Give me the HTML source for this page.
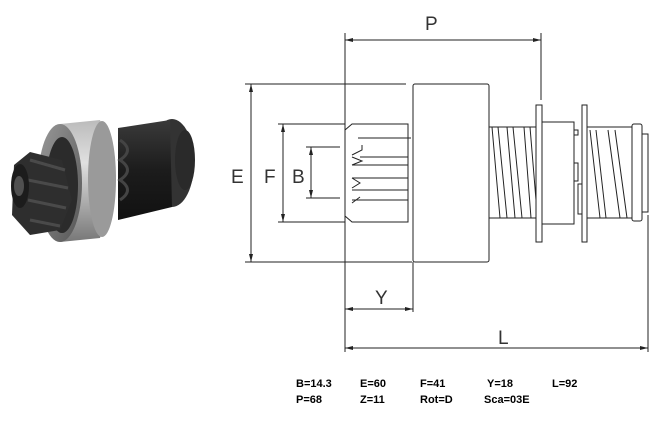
<!DOCTYPE html>
<html><head><style>
html,body{margin:0;padding:0;background:#fff;width:663px;height:421px;overflow:hidden}
svg{position:absolute;left:0;top:0}
.t{font-family:"Liberation Sans",Arial,sans-serif;font-weight:bold;font-size:11px;fill:#000}
.d{font-family:"Liberation Sans",Arial,sans-serif;font-size:19px;fill:#333}
</style></head><body>
<svg width="663" height="421" viewBox="0 0 663 421">
<defs>
<linearGradient id="ring" x1="0" y1="0" x2="0" y2="1">
<stop offset="0" stop-color="#bbb"/><stop offset="0.35" stop-color="#e0e0e0"/><stop offset="0.7" stop-color="#a8a8a8"/><stop offset="1" stop-color="#777"/></linearGradient>
<linearGradient id="face" x1="0" y1="0" x2="1" y2="1">
<stop offset="0" stop-color="#999"/><stop offset="1" stop-color="#555"/></linearGradient>
<linearGradient id="dk" x1="0" y1="0" x2="0" y2="1">
<stop offset="0" stop-color="#3a3a3a"/><stop offset="0.5" stop-color="#1c1c1c"/><stop offset="1" stop-color="#111"/></linearGradient>
<marker id="a" markerWidth="8" markerHeight="6" refX="8" refY="3" orient="auto-start-reverse" markerUnits="userSpaceOnUse"><path d="M0,1 L8,3 L0,5z" fill="#222"/></marker>
</defs>
<!-- photo -->
<ellipse cx="172" cy="163" rx="22" ry="44" fill="#333"/>
<ellipse cx="185" cy="160" rx="10" ry="30" fill="#2a2a2a"/>
<path d="M118 128 L170 120 L172 207 L118 220z" fill="url(#dk)"/>
<path d="M120 140 Q135 150 120 160 Q135 170 120 180 Q135 190 120 200" stroke="#444" fill="none" stroke-width="3"/>
<path d="M60 124 L100 120 Q120 178 100 238 L60 242z" fill="url(#ring)"/>
<ellipse cx="102" cy="179" rx="14" ry="58" fill="#9a9a9a"/>
<ellipse cx="60" cy="183" rx="22" ry="59" fill="url(#face)"/>
<ellipse cx="62" cy="185" rx="16" ry="48" fill="#2b2b2b"/>
<path d="M14 165 L30 152 L62 160 L72 200 L60 230 L30 235 L12 215z" fill="#2e2e2e"/>
<path d="M30 160 L65 170 M28 180 L68 188 M28 200 L66 208 M30 220 L60 226" stroke="#4a4a4a" stroke-width="3"/>
<ellipse cx="20" cy="186" rx="9" ry="22" fill="#1c1c1c"/>
<ellipse cx="19" cy="186" rx="5" ry="10" fill="#505050"/>
<!-- drawing -->
<g stroke="#222" stroke-width="1" fill="none">
<line x1="345" y1="33" x2="345" y2="352"/>
<line x1="345" y1="40" x2="541" y2="40" marker-start="url(#a)" marker-end="url(#a)"/>
<line x1="541" y1="33" x2="541" y2="100"/>
<line x1="245" y1="84" x2="406" y2="84"/>
<line x1="245" y1="262" x2="412" y2="262"/>
<line x1="251" y1="84" x2="251" y2="262" marker-start="url(#a)" marker-end="url(#a)"/>
<line x1="278" y1="124" x2="345" y2="124"/>
<line x1="278" y1="222" x2="345" y2="222"/>
<line x1="283" y1="124" x2="283" y2="222" marker-start="url(#a)" marker-end="url(#a)"/>
<line x1="306" y1="147" x2="340" y2="147"/>
<line x1="306" y1="198" x2="340" y2="198"/>
<line x1="311" y1="147" x2="311" y2="198" marker-start="url(#a)" marker-end="url(#a)"/>
<rect x="413" y="84" width="76" height="178" rx="2"/>
<path d="M345 130 L352 124 L408 124 L408 222 L352 222 L345 216z"/>
<path d="M358 138 H411 M352 155 L362 150 V145 M360 157 H408 M352 165 H408 M352 178 H408 M352 190 H408 M352 200 H408 M352 157 L362 161 L352 165 M352 188 L360 183 L352 178 M352 203 L360 197"/>
<rect x="489" y="127" width="47" height="91"/>
<path d="M492 127 L500 218 M498 127 L507 218 M507 127 L515 218 M513 127 L522 218 M524 127 L531 218 M530 127 L536 200"/>
<rect x="536" y="105" width="6" height="137"/>
<rect x="542" y="122" width="32" height="102"/>
<rect x="574" y="130" width="4" height="5"/><rect x="574" y="163" width="4" height="18"/>
<rect x="578" y="184" width="4" height="30"/>
<rect x="582" y="105" width="5" height="137"/>
<rect x="587" y="127" width="45" height="91"/>
<path d="M590 130 L600 218 M596 130 L606 218 M608 130 L620 218 M615 130 L627 218"/>
<rect x="632" y="124" width="10" height="97" rx="2"/>
<rect x="642" y="134" width="6" height="78"/>
<line x1="648" y1="215" x2="648" y2="352"/>
<line x1="345" y1="348" x2="648" y2="348" marker-start="url(#a)" marker-end="url(#a)"/>
<line x1="413" y1="262" x2="413" y2="312"/>
<line x1="345" y1="309" x2="413" y2="309" marker-start="url(#a)" marker-end="url(#a)"/>
</g>
<text class="d" x="425" y="30">P</text>
<text class="d" x="231" y="183">E</text>
<text class="d" x="264" y="183">F</text>
<text class="d" x="292" y="183">B</text>
<text class="d" x="375" y="304">Y</text>
<text class="d" x="498" y="344">L</text>
<text class="t" x="296" y="387">B=14.3</text>
<text class="t" x="360" y="387">E=60</text>
<text class="t" x="420" y="387">F=41</text>
<text class="t" x="487" y="387">Y=18</text>
<text class="t" x="552" y="387">L=92</text>
<text class="t" x="296" y="403">P=68</text>
<text class="t" x="360" y="403">Z=11</text>
<text class="t" x="420" y="403">Rot=D</text>
<text class="t" x="484" y="403">Sca=03E</text>
</svg>
</body></html>
